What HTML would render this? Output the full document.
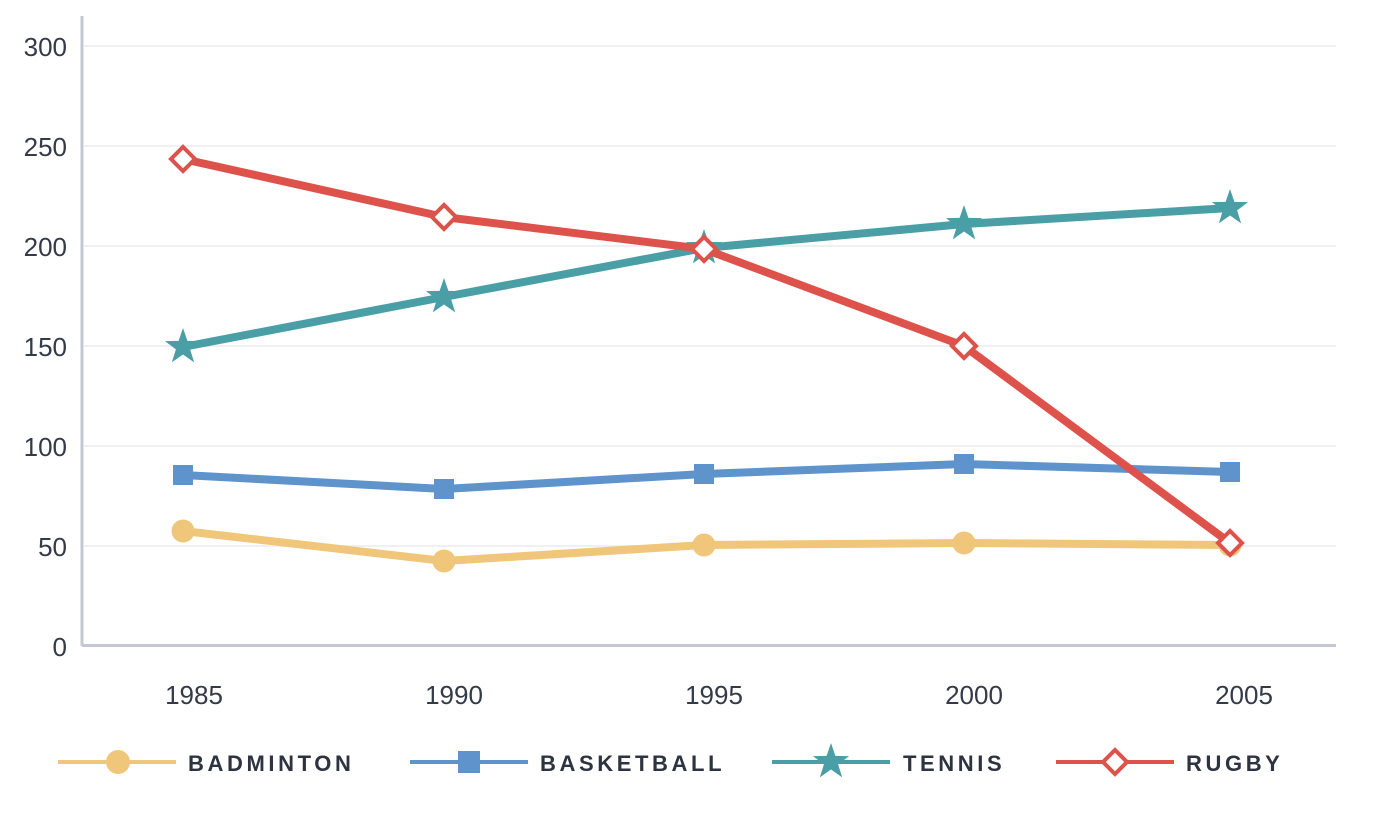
<!DOCTYPE html>
<html><head><meta charset="utf-8"><style>
html,body{margin:0;padding:0;background:#fff;}
svg{display:block;font-family:"Liberation Sans",sans-serif;}
</style></head><body>
<svg width="1374" height="822" viewBox="0 0 1374 822">
<defs>
<polygon id="star" points="0,-19 4.41,-6.07 18.07,-5.87 7.13,2.32 11.17,15.37 0,7.5 -11.17,15.37 -7.13,2.32 -18.07,-5.87 -4.41,-6.07" fill="#4a9fa6"/>
<rect id="dia" x="-8.5" y="-8.5" width="17" height="17" transform="rotate(45)" fill="#fff" stroke="#dd524a" stroke-width="4"/>
</defs>
<g stroke="#eef0f3" stroke-width="2">
<line x1="84" y1="46" x2="1336" y2="46"/><line x1="84" y1="146" x2="1336" y2="146"/>
<line x1="84" y1="246" x2="1336" y2="246"/><line x1="84" y1="346" x2="1336" y2="346"/>
<line x1="84" y1="446" x2="1336" y2="446"/><line x1="84" y1="546" x2="1336" y2="546"/>
</g>
<line x1="82" y1="16" x2="82" y2="646" stroke="#c3c8d3" stroke-width="3"/>
<line x1="82" y1="645.5" x2="1336" y2="645.5" stroke="#c3c8d3" stroke-width="3"/>
<g fill="#333a48" font-size="26" text-anchor="end">
<text x="67" y="56">300</text><text x="67" y="156">250</text><text x="67" y="256">200</text>
<text x="67" y="356">150</text><text x="67" y="456">100</text><text x="67" y="556">50</text><text x="67" y="656">0</text>
</g>
<g fill="#333a48" font-size="26" text-anchor="middle">
<text x="194" y="704">1985</text><text x="454" y="704">1990</text><text x="714" y="704">1995</text>
<text x="974" y="704">2000</text><text x="1244" y="704">2005</text>
</g>
<polyline points="183,531 444,561 704,545 964,543 1230,545" fill="none" stroke="#f0c67a" stroke-width="8" stroke-linejoin="round"/>
<g fill="#f0c67a"><circle cx="183" cy="531" r="11.5"/><circle cx="444" cy="561" r="11.5"/><circle cx="704" cy="545" r="11.5"/><circle cx="964" cy="543" r="11.5"/><circle cx="1230" cy="545" r="11.5"/></g>
<polyline points="183,475 444,489 704,474 964,464 1230,472" fill="none" stroke="#5e93cc" stroke-width="8" stroke-linejoin="round"/>
<g fill="#5e93cc"><rect x="173" y="465" width="20" height="20"/><rect x="434" y="479" width="20" height="20"/><rect x="694" y="464" width="20" height="20"/><rect x="954" y="454" width="20" height="20"/><rect x="1220" y="462" width="20" height="20"/></g>
<polyline points="183,347 444,297 704,248 964,224 1230,208" fill="none" stroke="#4a9fa6" stroke-width="8" stroke-linejoin="round"/>
<use href="#star" x="183" y="347"/><use href="#star" x="444" y="297"/><use href="#star" x="704" y="248"/><use href="#star" x="964" y="224"/><use href="#star" x="1230" y="208"/>
<polyline points="183,159 444,217 704,249 964,346 1230,543" fill="none" stroke="#dd524a" stroke-width="8" stroke-linejoin="round"/>
<use href="#dia" x="183" y="159"/><use href="#dia" x="444" y="217"/><use href="#dia" x="704" y="249"/><use href="#dia" x="964" y="346"/><use href="#dia" x="1230" y="543"/>
<g font-size="22" font-weight="bold" fill="#2e3340" letter-spacing="3.6">
<line x1="58" y1="762" x2="176" y2="762" stroke="#f0c67a" stroke-width="4"/><circle cx="118" cy="762" r="12" fill="#f0c67a"/>
<text x="188" y="771">BADMINTON</text>
<line x1="410" y1="762" x2="528" y2="762" stroke="#5e93cc" stroke-width="4"/><rect x="458" y="751" width="22" height="22" fill="#5e93cc"/>
<text x="540" y="771">BASKETBALL</text>
<line x1="772" y1="762" x2="890" y2="762" stroke="#4a9fa6" stroke-width="4"/><use href="#star" x="831" y="762"/>
<text x="903" y="771">TENNIS</text>
<line x1="1056" y1="762" x2="1174" y2="762" stroke="#dd524a" stroke-width="4"/><use href="#dia" x="1115" y="762"/>
<text x="1186" y="771">RUGBY</text>
</g>
</svg>
</body></html>
